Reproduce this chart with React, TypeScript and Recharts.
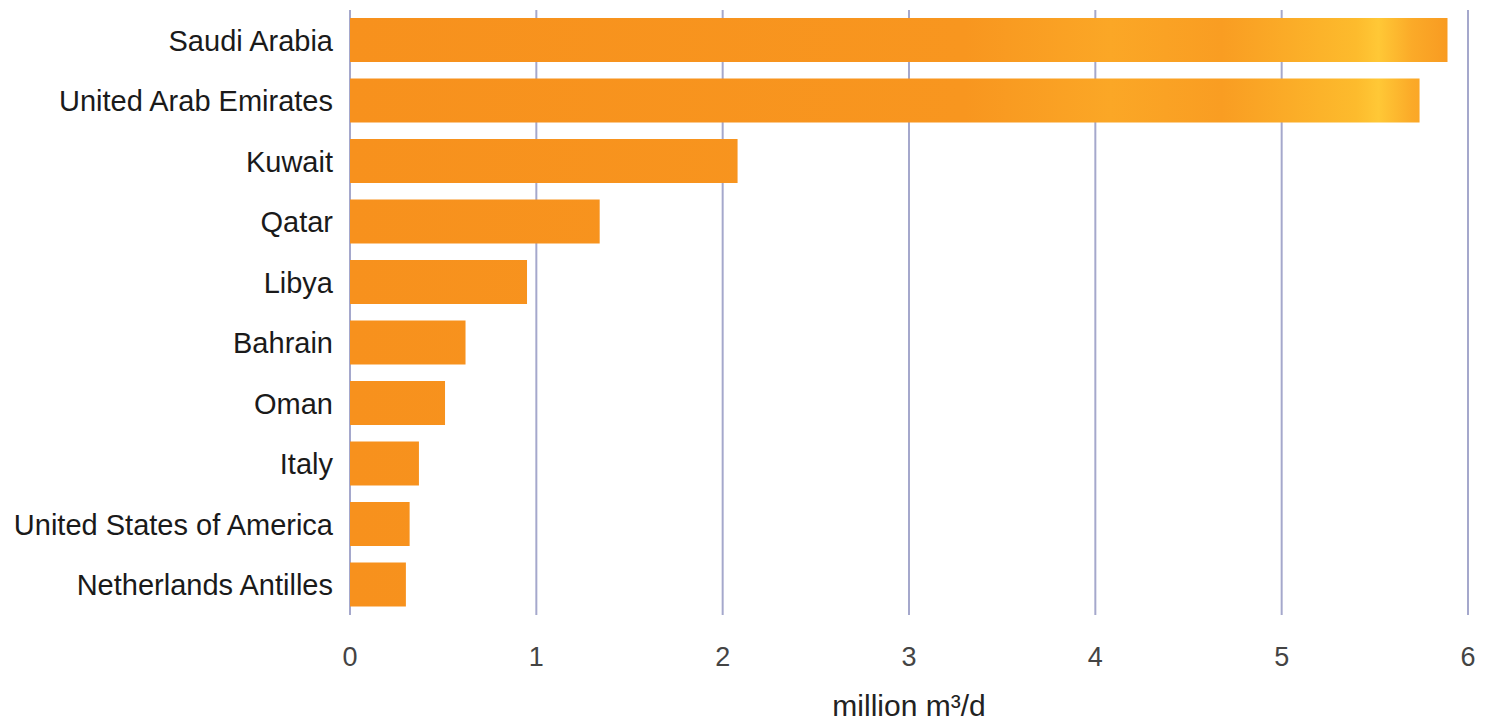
import React from "react";
import { BarChart, Bar, XAxis, YAxis, CartesianGrid, Label } from "recharts";

const countries = [
  "Saudi Arabia",
  "United Arab Emirates",
  "Kuwait",
  "Qatar",
  "Libya",
  "Bahrain",
  "Oman",
  "Italy",
  "United States of America",
  "Netherlands Antilles",
];
const capacity = [5.89, 5.74, 2.08, 1.34, 0.95, 0.62, 0.51, 0.37, 0.32, 0.3];
const xTicks = [0, 1, 2, 3, 4, 5, 6];
const axisTitle = "million m³/d";

const data = countries.map((c, i) => ({ country: c, value: capacity[i] }));

export default function App() {
  return (
    <div style={{ position: "absolute", left: 0, top: 0, background: "#fff" }}>
      <BarChart
        width={1486}
        height={725}
        data={data}
        layout="vertical"
        margin={{ top: 10, right: 18, bottom: 0, left: 0 }}
      >
        <defs>
          <linearGradient id="barGrad" gradientUnits="userSpaceOnUse" x1="350" y1="0" x2="1468" y2="0">
            <stop offset="0" stopColor="#f7911d" />
            <stop offset="0.55" stopColor="#f8961f" />
            <stop offset="0.68" stopColor="#fba726" />
            <stop offset="0.78" stopColor="#f99d22" />
            <stop offset="0.9" stopColor="#fdbb2d" />
            <stop offset="0.92" stopColor="#ffc836" />
            <stop offset="0.95" stopColor="#fbaa28" />
            <stop offset="1" stopColor="#f7921e" />
          </linearGradient>
        </defs>
        <CartesianGrid horizontal={false} vertical={true} stroke="#a5a8cc" strokeWidth={2} />
        <XAxis
          type="number"
          domain={[0, 6]}
          ticks={xTicks}
          axisLine={false}
          tickLine={false}
          tickSize={0}
          tickMargin={32}
          height={110}
          tick={{ fill: "#444", fontSize: 27, fontFamily: "Liberation Sans, Arial, sans-serif" }}
        >
          <Label
            value={axisTitle}
            position="insideBottom"
            offset={9}
            style={{ fill: "#222", fontSize: 30, fontFamily: "Liberation Sans, Arial, sans-serif" }}
          />
        </XAxis>
        <YAxis
          type="category"
          dataKey="country"
          width={350}
          axisLine={false}
          tickLine={false}
          tickSize={0}
          tickMargin={17}
          interval={0}
          tick={{ fill: "#1a1a1a", fontSize: 29, fontFamily: "Liberation Sans, Arial, sans-serif" }}
        />
        <Bar dataKey="value" fill="url(#barGrad)" barSize={44} isAnimationActive={false} />
      </BarChart>
    </div>
  );
}
